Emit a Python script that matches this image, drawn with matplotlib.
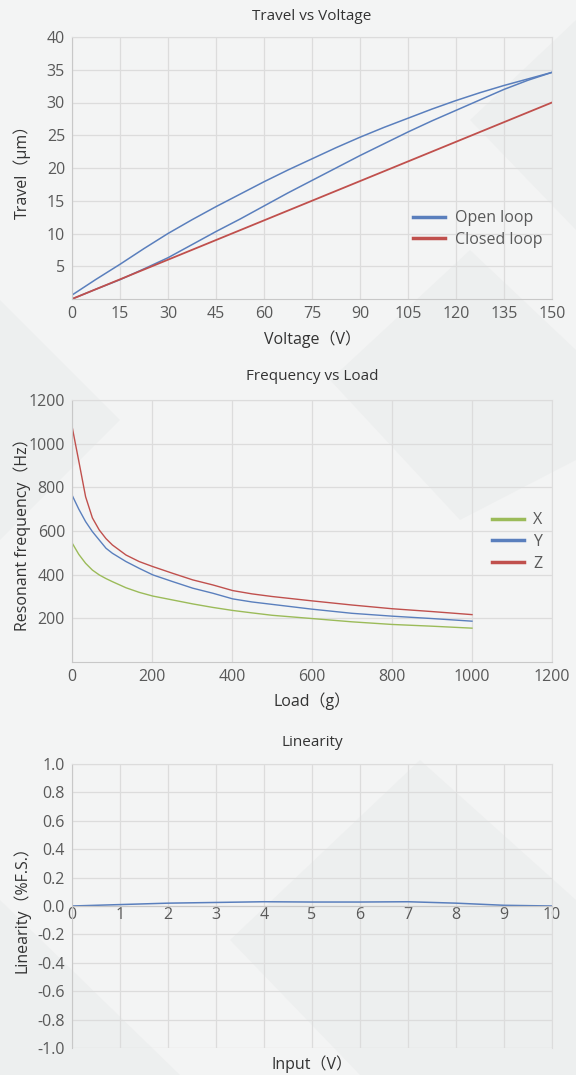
import matplotlib
matplotlib.use("Agg")
import matplotlib.pyplot as plt
from matplotlib.patches import Polygon
from matplotlib.lines import Line2D

# Travel vs Voltage
volt = [0, 7.5, 15, 22.5, 30, 37.5, 45, 52.5, 60, 67.5, 75, 82.5, 90,
        97.5, 105, 112.5, 120, 127.5, 135, 142.5, 150]
open_up = [0.0, 1.5, 2.95, 4.6, 6.3, 8.3, 10.3, 12.2, 14.2, 16.2, 18.1, 20.0, 21.9,
           23.7, 25.5, 27.2, 28.8, 30.4, 32.0, 33.4, 34.6]
open_down = [0.6, 3.0, 5.3, 7.7, 10.0, 12.1, 14.1, 16.0, 17.9, 19.7, 21.4, 23.1, 24.7,
             26.2, 27.6, 29.0, 30.3, 31.5, 32.6, 33.6, 34.6]
closed_loop = [0, 1.5, 3, 4.5, 6, 7.5, 9, 10.5, 12, 13.5, 15, 16.5, 18,
               19.5, 21, 22.5, 24, 25.5, 27, 28.5, 30]

# Frequency vs Load
load = [0, 17, 34, 51, 68, 85, 101, 135, 168, 202, 252, 302, 352, 402, 450, 500,
        600, 700, 800, 900, 1000]
freq_x = [546, 493, 452, 421, 399, 382, 368, 340, 319, 302, 284, 266, 250, 236, 225, 214,
          199, 184, 172, 164, 155]
freq_y = [765, 700, 643, 597, 559, 521, 498, 460, 429, 399, 368, 338, 315, 289, 275, 264,
          242, 223, 210, 199, 187]
freq_z = [1080, 920, 757, 660, 605, 565, 536, 490, 460, 437, 406, 376, 353, 327, 312, 300,
          280, 261, 244, 231, 217]

# Linearity
lin_input = [0, 1, 2, 3, 4, 5, 6, 7, 8, 9, 10]
lin_value = [0.0, 0.01, 0.02, 0.025, 0.03, 0.028, 0.028, 0.03, 0.02, 0.005, 0.0]

BLUE = "#5a7fbd"
RED = "#c0504d"
GREEN = "#9bbb59"
GRID = "#dcdcdc"
TICK = "#595959"
LABEL = "#333333"

plt.rcParams["font.family"] = ["Open Sans", "Noto Sans CJK SC", "DejaVu Sans"]

W, H = 576, 1075
fig = plt.figure(figsize=(W / 100, H / 100), dpi=100, facecolor="#f3f4f4")

# faint diagonal background shapes
bg_shapes = [
    [(0, 1075), (0, 900), (180, 1075)],
    [(230, 940), (420, 760), (576, 900), (576, 1075), (360, 1075)],
    [(470, 120), (576, 20), (576, 230)],
    [(0, 300), (120, 420), (0, 540)],
    [(330, 380), (470, 250), (576, 350), (576, 460), (460, 520)],
]
for pts in bg_shapes:
    fig.patches.append(Polygon([(x / W, 1 - y / H) for x, y in pts], closed=True,
                               transform=fig.transFigure, facecolor="#e4e6e6",
                               alpha=0.35, edgecolor="none", zorder=-10))


def make_axes(top, bottom, left=72, right=552):
    ax = fig.add_axes([left / W, 1 - bottom / H, (right - left) / W, (bottom - top) / H])
    ax.set_facecolor("none")
    ax.grid(True, color=GRID, linewidth=0.9)
    ax.set_axisbelow(True)
    for s in ax.spines.values():
        s.set_color(GRID)
    ax.spines["left"].set_color("#c8c8c8")
    ax.spines["bottom"].set_color("#c8c8c8")
    ax.tick_params(length=0, labelsize=11.5, labelcolor=TICK, pad=5)
    return ax


def titles(ax, title, xlabel, ylabel, ty, xy, yx):
    p = ax.get_position()
    cx = 0.5 * (p.x0 + p.x1)
    fig.text(cx, 1 - ty / H, title, ha="center", va="center", fontsize=11, color=LABEL)
    fig.text(cx, 1 - xy / H, xlabel, ha="center", va="center", fontsize=11.5, color=LABEL)
    fig.text(yx / W, 0.5 * (p.y0 + p.y1), ylabel, ha="center", va="center",
             rotation=90, fontsize=11.5, color=LABEL)


def add_legend(ax, colors, labels, y):
    handles = [Line2D([], [], color=c, lw=2.5) for c in colors]
    leg = ax.legend(handles, labels, loc="center right", bbox_to_anchor=(1.01, y),
                    frameon=False, fontsize=11.5, handlelength=2.0,
                    handletextpad=0.6, labelspacing=0.35)
    for t in leg.get_texts():
        t.set_color(TICK)


# chart 1
ax1 = make_axes(37, 299)
ax1.plot(volt, open_up, color=BLUE, lw=1.1)
ax1.plot(volt, open_down, color=BLUE, lw=1.1)
ax1.plot(volt, closed_loop, color=RED, lw=1.3)
ax1.set_xlim(0, 150)
ax1.set_ylim(0, 40)
ax1.set_xticks(range(0, 151, 15))
ax1.set_yticks(range(5, 41, 5))
add_legend(ax1, (BLUE, RED), ["Open loop", "Closed loop"], 0.267)
titles(ax1, "Travel vs Voltage", "Voltage（V）", "Travel（μm）", 17, 339, 22)

# chart 2
ax2 = make_axes(400, 662)
ax2.plot(load, freq_x, color=GREEN, lw=1.0)
ax2.plot(load, freq_y, color=BLUE, lw=1.0)
ax2.plot(load, freq_z, color=RED, lw=1.0)
ax2.set_xlim(0, 1200)
ax2.set_ylim(0, 1200)
ax2.set_xticks(range(0, 1201, 200))
ax2.set_yticks(range(200, 1201, 200))
add_legend(ax2, (GREEN, BLUE, RED), ["X", "Y", "Z"], 0.458)
titles(ax2, "Frequency vs Load", "Load（g）", "Resonant frequency（Hz）", 377, 701, 22)

# chart 3
ax3 = make_axes(764, 1048)
ax3.plot(lin_input, lin_value, color=BLUE, lw=1.1)
ax3.set_xlim(0, 10)
ax3.set_ylim(-1.0, 1.0)
ax3.set_xticks(lin_input)
yt = [round(-1.0 + 0.2 * i, 1) for i in range(11)]
ax3.set_yticks(yt)
ax3.set_yticklabels([f"{v:.1f}" for v in yt])
ax3.spines["bottom"].set_position(("data", 0))
ax3.tick_params(axis="x", pad=1)
titles(ax3, "Linearity", "Input（V）", "Linearity（%F.S.）", 743, 1064, 22)

fig.savefig("out.png", dpi=100, facecolor=fig.get_facecolor())
